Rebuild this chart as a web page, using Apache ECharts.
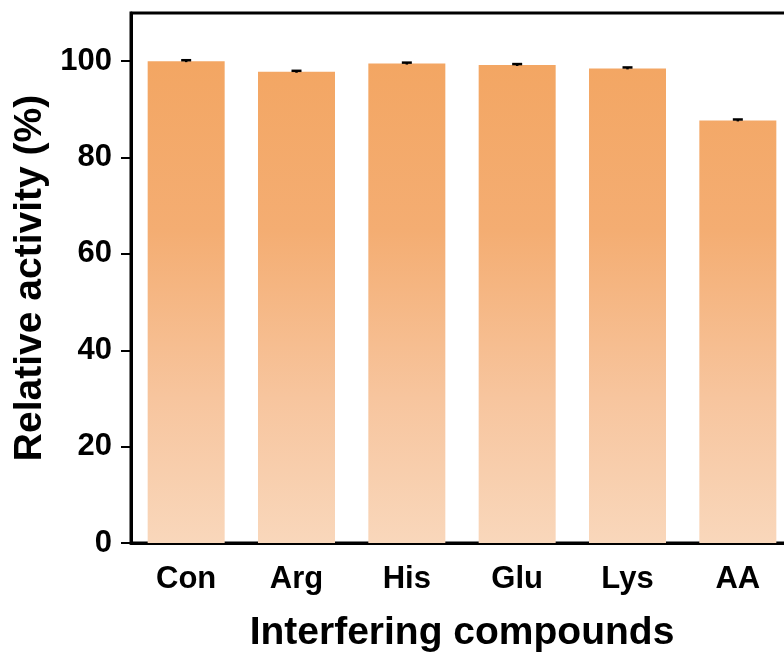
<!DOCTYPE html>
<html lang="en">
<head>
    <meta charset="UTF-8">
    <title>Relative activity</title>
    <style>
        html, body { margin: 0; padding: 0; background: #fff; }
        #chart { width: 784px; height: 654px; }
    </style>
    <script src="https://cdn.jsdelivr.net/npm/echarts@6/dist/echarts.min.js"></script>
</head>
<body>
    <div id="chart"></div>
    <script>
        // data
        var categories = ['Con', 'Arg', 'His', 'Glu', 'Lys', 'AA'];
        var activity = [100, 97.8, 99.5, 99.2, 98.5, 87.7];
        var errors = [0.2, 0.2, 0.2, 0.2, 0.2, 0.2];
        var yTicks = [0, 20, 40, 60, 80, 100];

        var chart = echarts.init(document.getElementById('chart'));
        var font = 'Liberation Sans, Arial, sans-serif';

        var errData = categories.map(function (c, i) {
            return [i, activity[i] - errors[i], activity[i] + errors[i]];
        });

        chart.setOption({
            animation: false,
            grid: {
                left: 131, top: 13, width: 662, height: 530,
                outerBoundsMode: 'none',
                show: true, borderColor: '#000', borderWidth: 3
            },
            xAxis: {
                type: 'category',
                data: categories,
                name: 'Interfering compounds',
                nameLocation: 'middle',
                nameGap: 71,
                nameTextStyle: { fontFamily: font, fontWeight: 'bold', fontSize: 39, color: '#000' },
                axisLine: { lineStyle: { color: '#000', width: 3 } },
                axisTick: { alignWithLabel: true, length: 10, lineStyle: { color: '#000', width: 2 } },
                axisLabel: { margin: 21, fontFamily: font, fontWeight: 'bold', fontSize: 31, color: '#000' }
            },
            yAxis: {
                type: 'value',
                min: 0, max: 110, interval: 20,
                name: 'Relative activity (%)',
                nameLocation: 'middle',
                nameGap: 81,
                nameTextStyle: { fontFamily: font, fontWeight: 'bold', fontSize: 39, color: '#000' },
                splitLine: { show: false },
                axisLine: { show: true, lineStyle: { color: '#000', width: 3 } },
                axisTick: { show: true, length: 10, customValues: yTicks, lineStyle: { color: '#000', width: 2 } },
                axisLabel: {
                    margin: 19, customValues: yTicks,
                    fontFamily: font, fontWeight: 'bold', fontSize: 31, color: '#000'
                }
            },
            series: [{
                type: 'bar',
                data: activity,
                barWidth: 77,
                itemStyle: {
                    color: {
                        type: 'linear', x: 0, y: 61, x2: 0, y2: 543, global: true,
                        colorStops: [
                            { offset: 0, color: '#F3A663' },
                            { offset: 0.35, color: '#F4AD72' },
                            { offset: 0.7, color: '#F7C59E' },
                            { offset: 1, color: '#F9D7BB' }
                        ]
                    }
                }
            }, {
                type: 'custom',
                data: errData,
                z: 5,
                renderItem: function (params, api) {
                    var lo = api.coord([api.value(0), api.value(1)]);
                    var hi = api.coord([api.value(0), api.value(2)]);
                    var w = 5;
                    return {
                        type: 'group',
                        children: [
                            { type: 'line', shape: { x1: hi[0], y1: hi[1], x2: lo[0], y2: lo[1] }, style: { stroke: '#000', lineWidth: 2.5 } },
                            { type: 'line', shape: { x1: hi[0] - w, y1: hi[1], x2: hi[0] + w, y2: hi[1] }, style: { stroke: '#000', lineWidth: 2.5 } }
                        ]
                    };
                }
            }]
        });
    </script>
</body>
</html>
